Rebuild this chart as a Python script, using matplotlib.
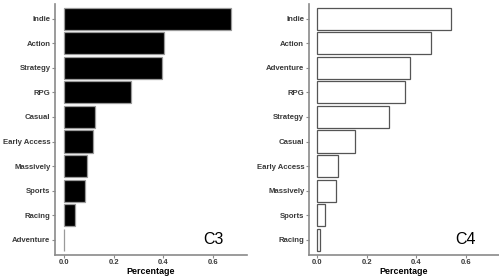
import matplotlib
matplotlib.use("Agg")
import matplotlib.pyplot as plt

# panel C3
c3_genres = ['Indie', 'Action', 'Strategy', 'RPG', 'Casual', 'Early Access',
             'Massively', 'Sports', 'Racing', 'Adventure']
c3_pct = [0.671, 0.404, 0.396, 0.270, 0.125, 0.119, 0.093, 0.085, 0.044, 0.003]

# panel C4
c4_genres = ['Indie', 'Action', 'Adventure', 'RPG', 'Strategy', 'Casual',
             'Early Access', 'Massively', 'Sports', 'Racing']
c4_pct = [0.539, 0.459, 0.374, 0.355, 0.290, 0.153, 0.083, 0.077, 0.031, 0.011]

xticks = [0.0, 0.2, 0.4, 0.6]

plt.rcParams['font.family'] = ['Liberation Sans', 'DejaVu Sans']

W, H = 499, 276
fig = plt.figure(figsize=(W / 100, H / 100), dpi=100)
fig.patch.set_facecolor('white')


def panel(rect, genres, pct, fill, edge, tag):
    ax = fig.add_axes(rect)
    n = len(genres)
    pos = list(range(n))[::-1]
    ax.barh(pos, pct, height=0.9, color=fill, edgecolor=edge, linewidth=0.9)
    ax.set_ylim(-0.6, n - 1 + 0.6)
    ax.set_xlim(-0.035, 0.735)
    ax.set_yticks(pos)
    ax.set_yticklabels(genres, fontsize=5.6, fontweight='bold', color='#3a3a3a')
    ax.set_xticks(xticks)
    ax.set_xticklabels([f'{t:.1f}' for t in xticks], fontsize=5.5,
                       fontweight='bold', color='#3a3a3a')
    ax.set_xlabel('Percentage', fontsize=6.4, fontweight='bold', labelpad=0.5)
    for s in ['top', 'right']:
        ax.spines[s].set_visible(False)
    for s in ['left', 'bottom']:
        ax.spines[s].set_color('#8a8a8a')
        ax.spines[s].set_linewidth(1.2)
    ax.tick_params(length=2, width=0.8, color='#8a8a8a', pad=1.2)
    ax.text(0.6, 0, tag, fontsize=11.5, ha='center', va='center', color='black')
    return ax


panel([55 / W, 1 - 254.5 / H, 192 / W, 250.5 / H], c3_genres, c3_pct,
      'black', '#9a9a9a', 'C3')
panel([308.7 / W, 1 - 254.5 / H, 190.3 / W, 250.5 / H], c4_genres, c4_pct,
      'white', '#555555', 'C4')

fig.savefig('out.png', dpi=100)
